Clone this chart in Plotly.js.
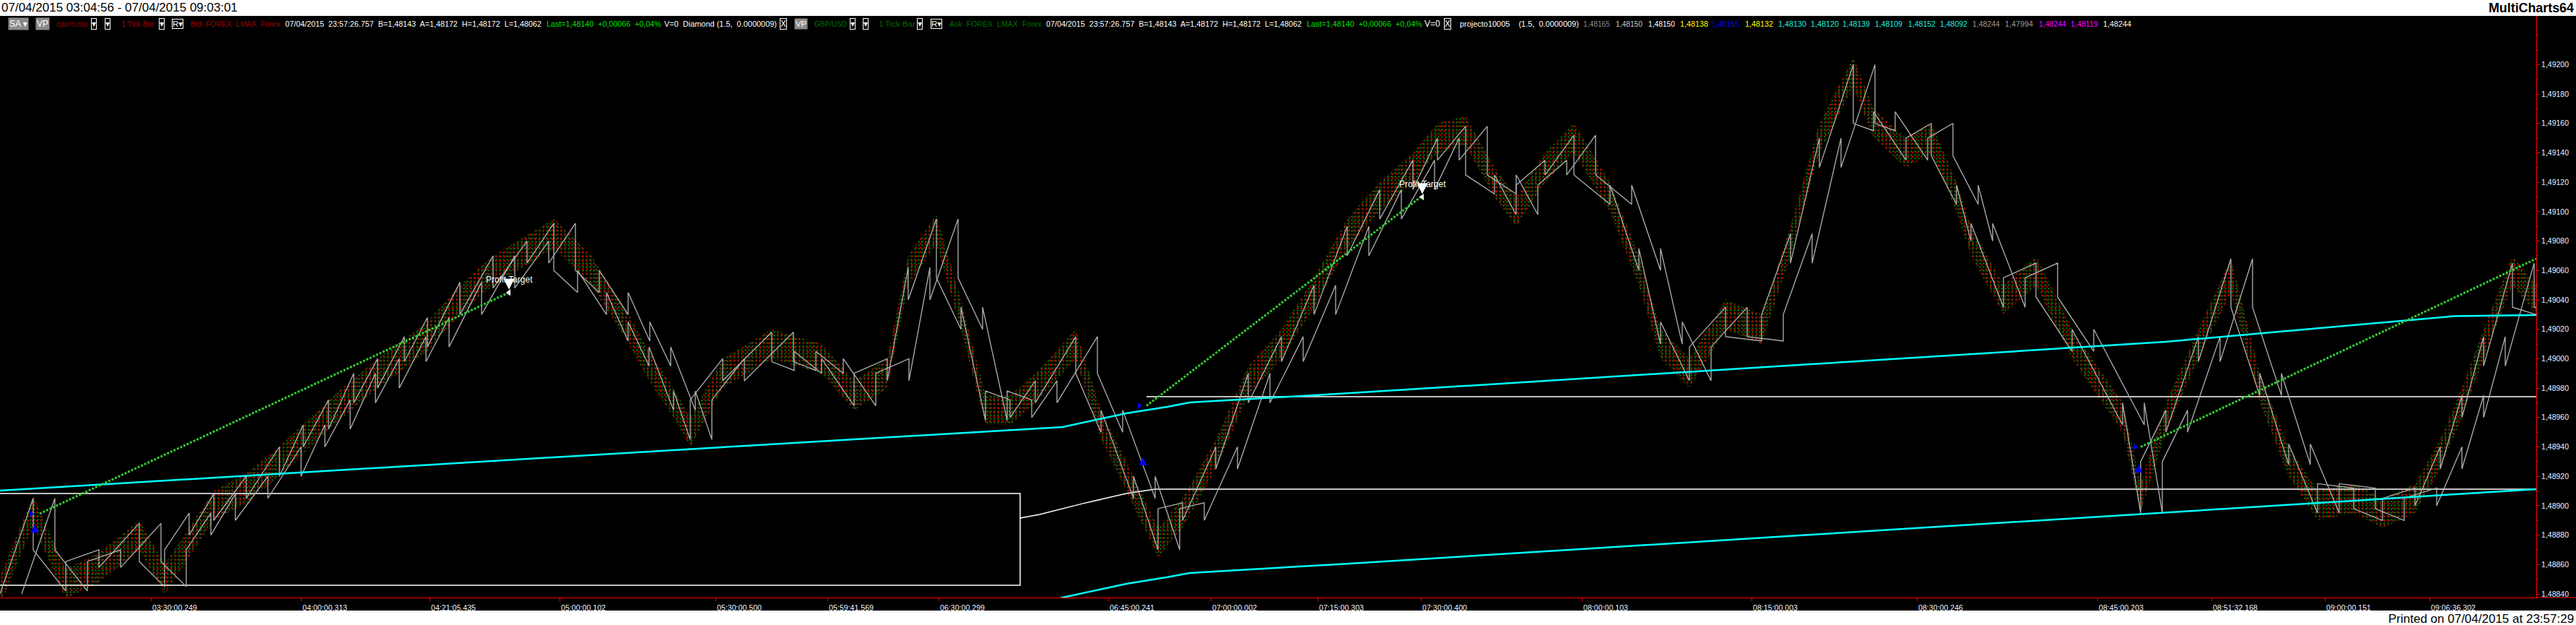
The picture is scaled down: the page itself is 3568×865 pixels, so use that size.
<!DOCTYPE html>
<html><head><meta charset="utf-8">
<script src="https://cdn.plot.ly/plotly-3.0.1.min.js"></script>
<style>html,body{margin:0;padding:0;background:#fff;overflow:hidden}#chart{width:3568px;height:865px}</style>
</head><body><div id="chart"></div>
<script>
// ---------------- data ----------------
const tickPos = [209, 417, 595, 775, 991, 1146, 1300, 1535, 1677, 1825, 1968, 2191, 2426, 2655, 2905, 3063, 3220, 3365];
const tickText = ['03:30:00.249','04:00:00.313','04:21:05.435','05:00:00.102','05:30:00.500','05:59:41.569','06:30:00.299','06:45:00.241','07:00:00.002','07:15:00.303','07:30:00.400','08:00:00.103','08:15:00.003','08:30:00.246','08:45:00.203','08:51:32.168','09:00:00.151','09:06:36.302'];
const priceTicks = [1.48840,1.48860,1.48880,1.48900,1.48920,1.48940,1.48960,1.48980,1.49000,1.49020,1.49040,1.49060,1.49080,1.49100,1.49120,1.49140,1.49160,1.49180,1.49200];
const priceMinor = [1.48850,1.48870,1.48890,1.48910,1.48930,1.48950,1.48970,1.48990,1.49010,1.49030,1.49050,1.49070,1.49090,1.49110,1.49130,1.49150,1.49170,1.49190,1.49210,1.49220];

// Diamond indicator, leading line (bar index, price) - verticals are reversal jumps
const leadX = [0,46,46,91,91,137,137,193,193,228,228,262,262,296,296,341,341,387,387,420,420,455,455,490,490,523,523,560,560,592,592,637,637,683,683,730,730,767,767,
  800,800,840,840,870,870,899,899,933,933,956,956,1001,1001,1069,1069,1100,1100,1138,1138,1183,1183,1229,1229,1258,1258,1297,1297,1331,1331,1365,1365,1399,1399,1434,1434,1490,1490,
  1525,1525,1570,1570,1604,1604,1638,1638,1684,1684,1729,1729,1775,1775,1820,1820,1866,1866,1911,1911,1957,1957,1991,1991,2030,2030,2070,2070,2100,2100,2140,2140,2180,2180,
  2230,2230,2270,2270,2300,2300,2340,2340,2390,2390,2440,2440,2480,2480,2520,2520,2567,2567,2595,2595,2640,2640,2675,2675,2710,2710,2730,2730,2775,2775,2820,2820,
  2870,2870,2940,2940,2965,2965,3000,3000,3045,3045,3090,3090,3130,3130,3170,3170,3210,3210,3260,3260,3300,3300,3345,3345,3380,3380,3410,3410,3440,3440,3480,3480,3513];
const leadY = [1.48840,1.48905,1.48870,1.48842,1.48862,1.48870,1.48858,1.48888,1.48862,1.48845,1.48870,1.48895,1.48880,1.48908,1.48890,1.48920,1.48905,1.48940,1.48920,1.48955,1.48940,1.48972,1.48952,1.48990,1.48970,1.49000,1.48980,1.49015,1.48998,1.49028,1.49008,1.49052,1.49030,1.49070,1.49048,1.49080,1.49065,1.49092,1.49060,
  1.49045,1.49060,1.49030,1.49045,1.49012,1.49025,1.48995,1.49008,1.48965,1.48978,1.48945,1.48972,1.49000,1.48985,1.49018,1.48998,1.48992,1.49005,1.48990,1.49000,1.48968,1.48990,1.49000,1.48985,1.49062,1.49040,1.49095,1.49055,1.49020,1.49035,1.48958,1.48978,1.48972,1.48960,1.48985,1.48970,1.49015,1.48990,
  1.48950,1.48965,1.48905,1.48920,1.48870,1.48898,1.48902,1.48890,1.48940,1.48925,1.48990,1.48970,1.49015,1.48998,1.49050,1.49030,1.49090,1.49070,1.49115,1.49095,1.49135,1.49115,1.49150,1.49135,1.49158,1.49125,1.49112,1.49125,1.49098,1.49118,1.49135,1.49125,1.49152,1.49125,
  1.49105,1.49118,1.49060,1.49075,1.49010,1.49025,1.48985,1.49008,1.49035,1.49015,1.49012,1.49030,1.49085,1.49065,1.49150,1.49130,1.49200,1.49160,1.49155,1.49168,1.49135,1.49150,1.49160,1.49138,1.49105,1.49118,1.49080,1.49092,1.49035,1.49055,1.49065,1.49042,
  1.49005,1.49020,1.48955,1.48970,1.48895,1.48930,1.48965,1.48950,1.49015,1.48998,1.49068,1.49035,1.48975,1.48990,1.48928,1.48942,1.48895,1.48915,1.48912,1.48898,1.48890,1.48905,1.48912,1.48900,1.48940,1.48925,1.48975,1.48960,1.49015,1.48995,1.49065,1.49035,1.49030];
// Diamond indicator, lagging line
const lagX = [30,76,76,121,121,167,167,223,223,258,258,292,292,326,326,371,371,417,417,450,450,485,485,520,520,553,553,590,590,622,622,667,667,713,713,760,760,797,797,
  830,830,870,870,900,900,929,929,963,963,986,986,1031,1031,1099,1099,1130,1130,1168,1168,1213,1213,1259,1259,1288,1288,1327,1327,1361,1361,1395,1395,1429,1429,1464,1464,1520,1520,
  1555,1555,1600,1600,1634,1634,1668,1668,1714,1714,1759,1759,1805,1805,1850,1850,1896,1896,1941,1941,1987,1987,2021,2021,2060,2060,2100,2100,2130,2130,2170,2170,2210,2210,
  2260,2260,2300,2300,2330,2330,2370,2370,2420,2420,2470,2470,2510,2510,2550,2550,2597,2597,2625,2625,2670,2670,2705,2705,2740,2740,2760,2760,2805,2805,2850,2850,
  2900,2900,2970,2970,2995,2995,3030,3030,3075,3075,3120,3120,3160,3160,3200,3200,3240,3240,3290,3290,3330,3330,3375,3375,3410,3410,3440,3440,3470,3470,3510,3510,3543];
const lagY = leadY.slice();

// tick-print cloud envelope (bar index, high, low)
const cloudX = [0,46,91,137,193,228,296,341,387,455,523,592,637,683,767,819,865,899,933,956,1001,1069,1138,1183,1229,1258,1297,1331,1365,1399,1434,1490,1525,1570,1604,1638,1684,1729,1775,1820,1866,1911,1957,1991,2030,2070,2100,2140,2180,2230,2270,2300,2340,2390,2440,2480,2520,2567,2595,2640,2675,2710,2730,2775,2820,2870,2940,2965,3000,3045,3090,3130,3170,3210,3260,3300,3345,3380,3410,3440,3480,3513];
const cloudHi = [1.48852,1.48907,1.48857,1.48868,1.48890,1.48860,1.48910,1.48922,1.48940,1.48972,
  1.49000,1.49025,1.49050,1.49070,1.49095,1.49070,1.49035,1.49005,1.48980,1.48960,
  1.49000,1.49020,1.49010,1.48985,1.49000,1.49070,1.49098,1.49040,1.48975,1.48975,
  1.48990,1.49020,1.48965,1.48920,1.48885,1.48905,1.48945,1.48995,1.49020,1.49055,
  1.49095,1.49120,1.49140,1.49160,1.49165,1.49130,1.49110,1.49140,1.49160,1.49120,
  1.49070,1.49020,1.49000,1.49040,1.49030,1.49090,1.49160,1.49205,1.49170,1.49150,
  1.49160,1.49120,1.49090,1.49050,1.49070,1.49020,1.48970,1.48915,1.48970,1.49020,
  1.49068,1.48990,1.48940,1.48910,1.48915,1.48905,1.48915,1.48945,1.48980,1.49020,
  1.49070,1.49050];
const cloudLo = [1.48832,1.48887,1.48837,1.48848,1.48870,1.48840,1.48890,1.48902,1.48920,1.48952,
  1.48980,1.49005,1.49030,1.49050,1.49075,1.49050,1.49015,1.48985,1.48960,1.48940,
  1.48980,1.49000,1.48990,1.48965,1.48980,1.49050,1.49078,1.49020,1.48955,1.48955,
  1.48970,1.49000,1.48945,1.48900,1.48865,1.48885,1.48925,1.48975,1.49000,1.49035,
  1.49075,1.49100,1.49120,1.49140,1.49145,1.49110,1.49090,1.49120,1.49140,1.49100,
  1.49050,1.49000,1.48980,1.49020,1.49010,1.49070,1.49140,1.49185,1.49150,1.49130,
  1.49140,1.49100,1.49070,1.49030,1.49050,1.49000,1.48950,1.48895,1.48950,1.49000,
  1.49045,1.48970,1.48920,1.48890,1.48895,1.48885,1.48895,1.48925,1.48960,1.49000,
  1.49050,1.49030];

// cyan bands
const cyanUpX = [0,300,600,1000,1400,1472,1560,1617,1648,1870,2500,3000,3400,3513];
const cyanUpY = [1.489103,1.489193,1.489280,1.489398,1.489515,1.489535,1.489629,1.489673,1.489702,1.489766,1.489960,1.490115,1.490289,1.490297];
const cyanLoX = [1440,1472,1560,1617,1648,1870,2500,3000,3400,3513];
const cyanLoY = [1.488321,1.488376,1.488469,1.488514,1.488543,1.488607,1.488800,1.488955,1.489078,1.489112];

// white level lines
const boxX = [0,1413,1413,0];
const boxY = [1.489083,1.489083,1.488459,1.488459];
const lvl2X = [1413,1440,1500,1560,1600,3513];
const lvl2Y = [1.488916,1.488941,1.489015,1.489083,1.489112,1.489112];
const lvl3X = [1588,3513];
const lvl3Y = [1.489742,1.489742];

// green dotted trade lines
const trade1X = [55,705], trade1Y = [1.488946,1.490450];
const trade2X = [1588,1968], trade2Y = [1.489680,1.491100];
const trade3X = [2965,3513], trade3Y = [1.489400,1.490680];

// markers
const entryX = [48,1583,2962], entryY = [1.488870,1.489330,1.489280];
const entryTriX = [43,1578,2957], entryTriY = [1.488946,1.489680,1.489400];
const targetX = [705,1970], targetY = [1.490450,1.491100];
const targetLabel = ['Profit Target','Profit Target'];

// header strip
const hdrText = ['SA ▾','VP','GBP/USD','▾','▾','1 Tick Bar','▾','R▾','Bid  FOREX  LMAX  Forex','07/04/2015  23:57:26.757  B=1,48143  A=1,48172  H=1,48172  L=1,48062','Last=1,48140  +0,00066  +0,04%','V=0  Diamond (1.5,  0.0000009)','X','VP','GBP/USD','▾','▾','1 Tick Bar','▾','R▾','Ask  FOREX  LMAX  Forex','07/04/2015  23:57:26.757  B=1,48143  A=1,48172  H=1,48172  L=1,48062','Last=1,48140  +0,00066  +0,04%','V=0','X','projecto10005    (1.5,  0.0000009)','1,48165','1,48150','1,48150','1,48138','1,48155','1,48132','1,48130','1,48120','1,48139','1,48109','1,48152','1,48092','1,48244','1,47994','1,48244','1,48119','1,48244'];
const hdrLeft  = [11,49,76,126,145,166,220,238,262,393,755,918,1080,1100,1126,1177,1195,1215,1270,1289,1313,1447,1808,1971,2000,2020,2191,2236,2281,2325,2369,2415,2461,2506,2550,2595,2641,2685,2730,2775,2822,2866,2911];
const hdrRight = [42,69,120,139,158,212,231,256,386,749,914,1074,1092,1119,1171,1189,1208,1266,1282,1307,1441,1802,1968,1994,2012,2185,2228,2273,2318,2364,2407,2454,2500,2545,2588,2633,2679,2723,2768,2814,2860,2904,2950];
const hdrColor = ['#ffffff','#ffffff','#a00000','#ffffff','#ffffff','#a00000','#ffffff','#ffffff','#a00000','#ffffff','#00e000','#ffffff','#ffffff','#ffffff','#006f00','#ffffff','#ffffff','#006f00','#ffffff','#ffffff','#006f00','#ffffff','#00e000','#ffffff','#ffffff','#ffffff','#8c8c8c','#c8c8c8','#ffffff','#ffff00','#0000ff','#ffff00','#20f0e0','#20f0e0','#20f0e0','#20f0e0','#20f0e0','#20f0e0','#9a9a9a','#9a9a9a','#ff00ff','#ff00ff','#fff8e0'];
const hdrStyle = ['gray','gray','','box','box','','box','box','','','','','box','gray','','box','box','','box','box','','','','','box','','','','','','','','','','','','','','','','','',''];

// ---------------- layout helpers ----------------
const W = 3568, H = 865, PL = 0, PR = 3513, PT = 22, PB = 827;
const Y_TOP = 1.4923312, Y_BOT = 1.4883755;
const px = v => (v - PL) / (PR - PL);
const py = v => (PB - v) / (PB - PT);
const SANS = '"Liberation Sans",Arial,"DejaVu Sans",sans-serif';
const ctx = document.createElement('canvas').getContext('2d');
function fit(text, target, maxSize, bold){
  ctx.font = (bold ? 'bold ' : '') + '100px ' + SANS;
  const w = ctx.measureText(text).width;
  return Math.min(maxSize, 100 * target / w);
}

const traces = [];
const polyX = cloudX.concat(cloudX.slice().reverse());
const polyY = cloudHi.concat(cloudLo.slice().reverse());
traces.push({x: polyX, y: polyY, mode:'none', fill:'toself', fillcolor:'rgba(0,0,0,0)',
  fillpattern:{shape:'.', fgcolor:'#007800', bgcolor:'rgba(0,0,0,0)', size:5, solidity:0.2}, hoverinfo:'skip'});
traces.push({x: polyX, y: polyY, mode:'none', fill:'toself', fillcolor:'rgba(0,0,0,0)',
  fillpattern:{shape:'.', fgcolor:'#a80000', bgcolor:'rgba(0,0,0,0)', size:6, solidity:0.17}, hoverinfo:'skip'});
traces.push({x: boxX, y: boxY, mode:'lines', line:{color:'#ffffff', width:1.5}, hoverinfo:'skip'});
traces.push({x: lvl2X, y: lvl2Y, mode:'lines', line:{color:'#ffffff', width:1.5}, hoverinfo:'skip'});
traces.push({x: lvl3X, y: lvl3Y, mode:'lines', line:{color:'#ffffff', width:1.5}, hoverinfo:'skip'});
traces.push({x: leadX, y: leadY, mode:'lines', line:{color:'#b0b0b0', width:1.3}, hoverinfo:'skip'});
traces.push({x: lagX, y: lagY, mode:'lines', line:{color:'#b0b0b0', width:1.3}, hoverinfo:'skip'});
traces.push({x: cyanUpX, y: cyanUpY, mode:'lines', line:{color:'#00ffff', width:2.5}, hoverinfo:'skip'});
traces.push({x: cyanLoX, y: cyanLoY, mode:'lines', line:{color:'#00ffff', width:2.5}, hoverinfo:'skip'});
[[trade1X,trade1Y],[trade2X,trade2Y],[trade3X,trade3Y]].forEach(t=>{
  traces.push({x:t[0], y:t[1], mode:'lines', line:{color:'#33cc33', width:3, dash:'3px,2px'}, hoverinfo:'skip'});
});
traces.push({x: entryX, y: entryY, mode:'markers', marker:{symbol:'arrow-up', color:'#0000ff', size:11}, hoverinfo:'skip'});
traces.push({x: entryTriX, y: entryTriY, mode:'markers', marker:{symbol:'triangle-right', color:'#0000ff', size:8}, hoverinfo:'skip'});
traces.push({x: targetX, y: targetY, mode:'markers', marker:{symbol:'triangle-left', color:'#ffffff', size:8}, hoverinfo:'skip'});

const annotations = [];
const title = '07/04/2015 03:04:56 - 07/04/2015 09:03:01';
annotations.push({xref:'paper', yref:'paper', x:px(0), y:py(11), xanchor:'left', yanchor:'middle', showarrow:false,
  text:title, font:{family:SANS, size:fit(title,329,17), color:'#000000'}});
annotations.push({xref:'paper', yref:'paper', x:px(3567), y:py(11), xanchor:'right', yanchor:'middle', showarrow:false,
  text:'<b>MultiCharts64</b>', font:{family:SANS, size:fit('MultiCharts64',118,18,true), color:'#000000'}});
const printed = 'Printed on 07/04/2015 at 23:57:29';
annotations.push({xref:'paper', yref:'paper', x:px(3567), y:py(856), xanchor:'right', yanchor:'middle', showarrow:false,
  text:printed, font:{family:SANS, size:fit(printed,258,17), color:'#000000'}});
hdrText.forEach((t,i)=>{
  const st = hdrStyle[i];
  const target = hdrRight[i] - hdrLeft[i] - (st ? 4 : 0);
  const a = {xref:'paper', yref:'paper', x:px(hdrLeft[i]), y:py(33), xanchor:'left', yanchor:'middle', showarrow:false,
    text:t, font:{family:SANS, size:fit(t, target, 12), color:hdrColor[i]}};
  if (st==='gray'){ a.bgcolor='#8a8a8a'; a.borderpad=1; }
  if (st==='box'){ a.bordercolor='#ffffff'; a.borderwidth=1; a.borderpad=0; }
  annotations.push(a);
});
targetX.forEach((x,i)=>{
  annotations.push({x:x, y:targetY[i], xref:'x', yref:'y', text:targetLabel[i], showarrow:true, arrowcolor:'#ffffff', arrowhead:2, arrowsize:1.2, arrowwidth:2.5, ax:0, ay:-18, standoff:4,
    font:{family:SANS, size:12, color:'#ffffff'}});
});

const shapes = [
  {type:'rect', xref:'paper', yref:'paper', x0:px(0), x1:px(W), y0:py(0), y1:py(PT), fillcolor:'#ffffff', line:{width:0}, layer:'below'},
  {type:'rect', xref:'paper', yref:'paper', x0:px(0), x1:px(W), y0:py(845), y1:py(H), fillcolor:'#ffffff', line:{width:0}, layer:'below'},
  {type:'line', xref:'paper', yref:'paper', x0:px(PR), x1:px(W), y0:0, y1:0, line:{color:'#ff0000', width:1}}
];

const layout = {
  width:W, height:H, autosize:false,
  margin:{l:PL, r:W-PR, t:PT, b:H-PB, pad:0},
  paper_bgcolor:'#000000', plot_bgcolor:'#000000',
  showlegend:false, separators:',.',
  xaxis:{range:[0,PR-PL], tickmode:'array', tickvals:tickPos, ticktext:tickText, showgrid:false, zeroline:false,
    showline:true, linecolor:'#ff0000', linewidth:1, ticks:'outside', ticklen:4, tickcolor:'#ff0000',
    tickfont:{family:SANS, size:fit('03:30:00.249',62,12), color:'#eef2ff'}, ticklabelshift:33, fixedrange:true},
  yaxis:{range:[Y_BOT,Y_TOP], side:'right', tickmode:'array', tickvals:priceTicks, tickformat:'.5f', showgrid:false, zeroline:false,
    showline:true, linecolor:'#ff0000', linewidth:1, ticks:'outside', ticklen:4, tickcolor:'#ff0000',
    tickfont:{family:SANS, size:fit('1,49200',38,12), color:'#eef2ff'}, fixedrange:true,
    minor:{tickmode:'array', tickvals:priceMinor, ticks:'outside', ticklen:2, tickcolor:'#ff0000'}},
  annotations:annotations, shapes:shapes
};
Plotly.newPlot('chart', traces, layout, {staticPlot:true, displayModeBar:false});
</script></body></html>
